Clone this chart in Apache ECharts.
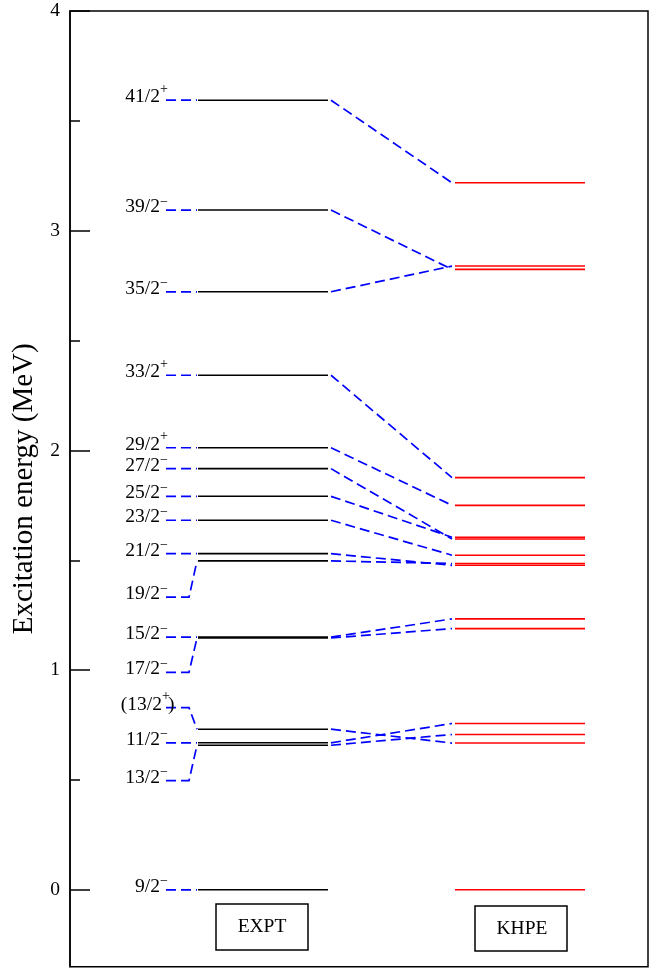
<!DOCTYPE html>
<html>
<head>
<meta charset="utf-8">
<script src="https://cdn.jsdelivr.net/npm/echarts@6/dist/echarts.min.js"></script>
<style>
  html, body { margin: 0; padding: 0; background: #fff; }
  #chart { width: 655px; height: 968px; }
</style>
</head>
<body>
<div id="chart"></div>
<script>
// Experimental levels: spin, parity, tentative assignment flag
const spins     = ['41/2', '39/2', '35/2', '33/2', '29/2', '27/2', '25/2', '23/2', '21/2', '19/2', '15/2', '17/2', '13/2', '11/2', '13/2', '9/2'];
const parities  = ['+', '−', '−', '+', '+', '−', '−', '−', '−', '−', '−', '−', '+', '−', '−', '−'];
const tentative = [false, false, false, false, false, false, false, false, false, false, false, false, true, false, false, false];

// Measured excitation energies (MeV)
const exptEnergy  = [3.594, 3.094, 2.722, 2.342, 2.012, 1.917, 1.791, 1.682, 1.530, 1.497, 1.150, 1.146, 0.731, 0.669, 0.658, 0.000];
// Energy at which each spin label is written (moved off the level where levels crowd)
const labelEnergy = [3.594, 3.094, 2.722, 2.342, 2.012, 1.917, 1.791, 1.682, 1.530, 1.332, 1.150, 0.990, 0.829, 0.669, 0.497, 0.000];

// KHPE shell-model levels (MeV)
const khpeEnergy = [3.218, 2.839, 2.824, 1.876, 1.750, 1.605, 1.597, 1.523, 1.485, 1.477, 1.233, 1.189, 0.757, 0.707, 0.668, 0.000];
// Calculated partner of each experimental level (null: no link drawn)
const khpePartner = [3.218, 2.824, 2.839, 1.876, 1.750, 1.597, 1.605, 1.523, 1.477, 1.485, 1.233, 1.189, 0.668, 0.757, 0.707, null];

// Axis ticks
const majorTicks = [0, 1, 2, 3, 4];
const minorTicks = [0.5, 1.5, 2.5, 3.5];
const columnNames = ['EXPT', 'KHPE'];

const SERIF = '"Liberation Serif", "DejaVu Serif", serif';
const FONT = 19.5;
const SUP_FONT = 14;

// Horizontal layout of the scheme, in x-axis units (one unit per pixel across the plot)
const X = {
  min: 70, max: 648,
  leadStart: 166, leadBend: 189,
  exptStart: 198, exptEnd: 328,
  linkStart: 331, linkEnd: 452,
  thStart: 455, thEnd: 585
};

const linkPairs = exptEnergy
  .map((e, i) => [e, khpePartner[i]])
  .filter(p => p[1] !== null);

const BLUE_DASH = { stroke: '#0000ff', lineWidth: 1.7, lineDash: [10, 5], fill: null };
const LEVEL_WIDTH = 1.6;

function textEl(str, x, y, size, align) {
  return {
    type: 'text', x: x, y: y,
    style: { text: str, font: size + 'px ' + SERIF, fill: '#000', align: align, verticalAlign: 'middle' }
  };
}

// Spin label: J written right-aligned, parity as a superscript after it
function spinLabel(i, x, y) {
  const shift = tentative[i] ? 2 : 0;
  const supX = x - 6 + shift;
  const parts = [
    textEl((tentative[i] ? '(' : '') + spins[i], supX, y - 3, FONT, 'right'),
    parities[i] === '+'
      ? textEl('+', supX, y - 11, SUP_FONT, 'left')
      : textEl('−', supX, y - 8, SUP_FONT, 'left')
  ];
  if (tentative[i]) parts.push(textEl(')', supX + 6, y - 3, FONT, 'left'));
  return parts;
}

const chart = echarts.init(document.getElementById('chart'));

const option = {
  animation: false,
  grid: {
    left: 70, right: 7, top: 11, bottom: 1.3,
    containLabel: false, outerBoundsMode: 'none',
    show: true, borderColor: '#000', borderWidth: 1.5, backgroundColor: 'transparent'
  },
  xAxis: { type: 'value', min: X.min, max: X.max, show: false },
  yAxis: [
    {
      type: 'value', min: -0.35, max: 4,
      axisLine: { show: true, lineStyle: { color: '#000', width: 1.5 } },
      axisTick: { show: true, inside: true, length: 20, customValues: majorTicks, lineStyle: { color: '#000', width: 1.5 } },
      axisLabel: { customValues: majorTicks, margin: 10, fontFamily: SERIF, fontSize: FONT, color: '#000' },
      splitLine: { show: false },
      name: 'Excitation energy (MeV)',
      nameLocation: 'middle', nameRotate: 90, nameGap: 29,
      nameTextStyle: { fontFamily: SERIF, fontSize: 29, color: '#000' }
    },
    {
      type: 'value', min: -0.35, max: 4, position: 'left',
      axisLine: { show: false },
      axisTick: { show: true, inside: true, length: 10, customValues: minorTicks, lineStyle: { color: '#000', width: 1.5 } },
      axisLabel: { show: false },
      splitLine: { show: false }
    }
  ],
  series: [
    {
      // Experimental levels with their spin labels and leaders
      type: 'custom',
      name: columnNames[0],
      data: exptEnergy.map((e, i) => [e, labelEnergy[i]]),
      renderItem: function (params, api) {
        const i = params.dataIndex;
        const e = exptEnergy[i], le = labelEnergy[i];
        const a = api.coord([X.exptStart, e]);
        const b = api.coord([X.exptEnd, e]);
        const l0 = api.coord([X.leadStart, le]);
        const l1 = api.coord([X.leadBend, le]);
        const l2 = api.coord([X.exptStart - 1, e]);
        return {
          type: 'group',
          children: [
            { type: 'line', shape: { x1: a[0], y1: a[1], x2: b[0], y2: b[1] }, style: { stroke: '#000', lineWidth: LEVEL_WIDTH } },
            { type: 'polyline', shape: { points: [l0, l1, l2] }, style: BLUE_DASH }
          ].concat(spinLabel(i, l0[0], l0[1]))
        };
      }
    },
    {
      // Calculated levels
      type: 'custom',
      name: columnNames[1],
      data: khpeEnergy.map(e => [e]),
      renderItem: function (params, api) {
        const e = khpeEnergy[params.dataIndex];
        const a = api.coord([X.thStart, e]);
        const b = api.coord([X.thEnd, e]);
        return { type: 'line', shape: { x1: a[0], y1: a[1], x2: b[0], y2: b[1] }, style: { stroke: '#ff0000', lineWidth: LEVEL_WIDTH } };
      }
    },
    {
      // Links between experimental and calculated partners
      type: 'custom',
      name: 'links',
      data: linkPairs,
      renderItem: function (params, api) {
        const pair = linkPairs[params.dataIndex];
        const a = api.coord([X.linkStart, pair[0]]);
        const b = api.coord([X.linkEnd, pair[1]]);
        return { type: 'line', shape: { x1: a[0], y1: a[1], x2: b[0], y2: b[1] }, style: BLUE_DASH };
      }
    }
  ],
  graphic: [
    { type: 'rect', shape: { x: 216, y: 904, width: 92, height: 46 }, style: { fill: '#fff', stroke: '#000', lineWidth: 1.5 } },
    { type: 'text', x: 262, y: 927, style: { text: columnNames[0], font: FONT + 'px ' + SERIF, fill: '#000', align: 'center', verticalAlign: 'middle' } },
    { type: 'rect', shape: { x: 475, y: 906, width: 92, height: 45 }, style: { fill: '#fff', stroke: '#000', lineWidth: 1.5 } },
    { type: 'text', x: 522, y: 929, style: { text: columnNames[1], font: FONT + 'px ' + SERIF, fill: '#000', align: 'center', verticalAlign: 'middle' } }
  ]
};

chart.setOption(option);
</script>
</body>
</html>
